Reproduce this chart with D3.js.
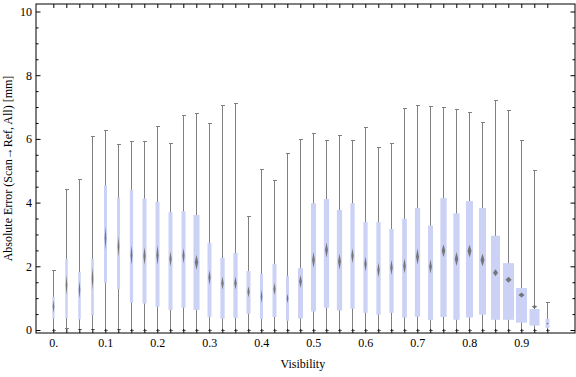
<!DOCTYPE html>
<html>
<head>
<meta charset="utf-8">
<script src="https://cdn.jsdelivr.net/npm/d3@7"></script>
<style>
  body { margin: 0; background: #fff; }
  text { font-family: "Liberation Serif", "Times New Roman", serif; }
</style>
</head>
<body>
<div id="chart"></div>
<script>
// Data (one entry per visibility bin)
const visibility = [0, 0.025, 0.05, 0.075, 0.1, 0.125, 0.15, 0.175, 0.2, 0.225,
    0.25, 0.275, 0.3, 0.325, 0.35, 0.375, 0.4, 0.425, 0.45, 0.475,
    0.5, 0.525, 0.55, 0.575, 0.6, 0.625, 0.65, 0.675, 0.7, 0.725,
    0.75, 0.775, 0.8, 0.825, 0.85, 0.875, 0.9, 0.925, 0.95];
const whiskerMax = [1.86, 4.4, 4.74, 6.07, 6.25, 5.83, 5.92, 5.92, 6.4, 5.87,
    6.72, 6.8, 6.49, 7.06, 7.1, 3.55, 5.04, 4.68, 5.53, 5.99,
    6.17, 5.96, 6.11, 5.96, 6.36, 5.74, 5.86, 6.96, 7.06, 7.03,
    6.99, 6.93, 6.83, 6.52, 7.21, 6.9, 5.96, 5.02, 0.87];
const q3 = [1.04, 2.23, 1.82, 2.23, 4.54, 4.15, 4.4, 4.13, 4.02, 3.7,
    3.73, 3.61, 2.73, 2.26, 2.42, 1.85, 1.76, 2.08, 1.69, 1.94,
    3.98, 4.11, 3.77, 3.98, 3.39, 3.39, 3.17, 3.49, 3.83, 3.28,
    4.14, 3.66, 4.05, 3.83, 2.96, 2.1, 1.32, 0.66, 0.35];
const q1 = [0.36, 0.37, 0.33, 0.46, 1.47, 1.28, 0.86, 0.83, 0.73, 0.63,
    0.7, 0.63, 0.41, 0.35, 0.38, 0.51, 0.35, 0.41, 0.29, 0.36,
    0.58, 0.7, 0.61, 0.67, 0.54, 0.48, 0.54, 0.39, 0.42, 0.32,
    0.41, 0.32, 0.39, 0.48, 0.32, 0.32, 0.23, 0.14, 0.07];
const whiskerMin = [0, 0.05, 0.02, 0.02, 0, 0.02, 0, 0, 0, 0,
    0, 0, 0, 0, 0, 0, 0, 0, 0, 0,
    0, 0, 0, 0, 0, 0, 0, 0, 0, 0,
    0, 0, 0, 0, 0, 0, 0, 0, 0];
const mean = [0.74, 1.41, 1.26, 1.62, 2.88, 2.62, 2.35, 2.32, 2.35, 2.23,
    2.33, 2.13, 1.65, 1.47, 1.47, 1.2, 1.05, 1.29, 0.99, 1.52,
    2.2, 2.51, 2.15, 2.33, 2.07, 1.88, 1.96, 2.01, 2.3, 1.99,
    2.49, 2.23, 2.48, 2.2, 1.8, 1.58, 1.1, 0.73, 0.2];
// full height of the mean confidence diamond
const meanCI = [0.41, 0.63, 0.57, 0.72, 0.72, 0.63, 0.63, 0.57, 0.63, 0.47,
    0.47, 0.47, 0.47, 0.41, 0.41, 0.35, 0.41, 0.38, 0.31, 0.41,
    0.5, 0.47, 0.5, 0.47, 0.47, 0.47, 0.47, 0.47, 0.5, 0.44,
    0.41, 0.44, 0.41, 0.41, 0.22, 0.19, 0.16, 0.11, 0.06];
// relative box width (sample weight)
const weight = [0.21, 0.23, 0.23, 0.25, 0.27, 0.27, 0.3, 0.36, 0.36, 0.36,
    0.36, 0.55, 0.36, 0.39, 0.39, 0.36, 0.27, 0.36, 0.27, 0.45,
    0.45, 0.48, 0.48, 0.39, 0.39, 0.39, 0.39, 0.43, 0.48, 0.45,
    0.57, 0.57, 0.64, 0.64, 0.82, 1, 1, 0.91, 0.36];
const xTickLabels = [0, 0.1, 0.2, 0.3, 0.4, 0.5, 0.6, 0.7, 0.8, 0.9];
const yTicks = [0, 2, 4, 6, 8, 10];

const data = visibility.map((v, i) => ({
    v: v, max: whiskerMax[i], q3: q3[i], q1: q1[i], min: whiskerMin[i],
    mean: mean[i], ci: meanCI[i], w: weight[i]
}));

const serif = '"Liberation Serif", "Times New Roman", serif';
const margin = { top: 4, right: 1, bottom: 44, left: 36 };
const width = 576 - margin.left - margin.right;
const height = 377 - margin.top - margin.bottom;

const svg = d3.select('#chart')
    .append('svg')
    .attr('width', 576)
    .attr('height', 377)
    .append('g')
    .attr('transform', `translate(${margin.left}, ${margin.top})`);

const xScale = d3.scaleLinear().domain([-0.0333, 1.0033]).range([0, width]);
const yScale = d3.scaleLinear().domain([-0.094, 10.235]).range([height, 0]);
const wScale = d3.scaleLinear().domain([0, 1]).range([0, 11]);

// blur for the diamonds
svg.append('defs').append('filter')
    .attr('id', 'soft')
    .attr('x', '-100%').attr('y', '-50%').attr('width', '300%').attr('height', '200%')
    .append('feGaussianBlur').attr('stdDeviation', 0.55);

const g = svg.selectAll('.bw').data(data).join('g').attr('class', 'bw')
    .attr('transform', d => `translate(${Math.round(xScale(d.v)) + 0.5},0)`);

// Whiskers
const whisk = g.append('g')
    .attr('stroke', '#808080').attr('stroke-width', 1)
    .attr('shape-rendering', 'crispEdges');
whisk.append('line')
    .attr('y1', d => yScale(d.max)).attr('y2', d => yScale(d.min));
whisk.append('line')
    .attr('x1', -2).attr('x2', 2)
    .attr('y1', d => yScale(d.max)).attr('y2', d => yScale(d.max));
whisk.append('line')
    .attr('x1', -2).attr('x2', 2)
    .attr('y1', d => yScale(d.min)).attr('y2', d => yScale(d.min));

// Boxes
g.append('rect')
    .attr('x', d => -wScale(d.w) / 2)
    .attr('width', d => wScale(d.w))
    .attr('y', d => yScale(d.q3))
    .attr('height', d => yScale(d.q1) - yScale(d.q3))
    .attr('fill', '#ccd2f5');

// Mean diamonds
g.append('path')
    .attr('d', d => {
        const hw = Math.max(0.8, wScale(d.w) * 0.28);
        const top = yScale(d.mean + d.ci / 2), bot = yScale(d.mean - d.ci / 2), mid = yScale(d.mean);
        return `M0,${top}L${hw},${mid}L0,${bot}L${-hw},${mid}Z`;
    })
    .attr('fill', '#666')
    .attr('fill-opacity', 0.85)
    .attr('filter', 'url(#soft)');

// Frame
svg.append('rect')
    .attr('width', width).attr('height', height)
    .attr('fill', 'none').attr('stroke', '#000').attr('stroke-width', 1);

// Axes
const fmtX = d => d === 0 ? '0.' : d3.format('.1f')(d);
svg.append('g')
    .attr('transform', `translate(0, ${height})`)
    .call(d3.axisBottom(xScale).tickValues(visibility).tickSizeInner(-4).tickSizeOuter(0).tickPadding(5)
        .tickFormat(d => xTickLabels.some(t => Math.abs(t - d) < 1e-9) ? fmtX(d) : ''));
svg.append('g')
    .call(d3.axisTop(xScale).tickValues(visibility).tickSizeInner(-4).tickSizeOuter(0).tickFormat(''));

const minorY = [1, 3, 5, 7, 9, 0.5, 1.5, 2.5, 3.5, 4.5, 5.5, 6.5, 7.5, 8.5, 9.5];
svg.append('g')
    .call(d3.axisLeft(yScale).tickValues(yTicks).tickSizeInner(-4.5).tickSizeOuter(0).tickPadding(4));
svg.append('g')
    .call(d3.axisLeft(yScale).tickValues(minorY).tickSizeInner(-2.5).tickSizeOuter(0).tickFormat(''));
svg.append('g').attr('transform', `translate(${width},0)`)
    .call(d3.axisRight(yScale).tickValues(yTicks).tickSizeInner(-4.5).tickSizeOuter(0).tickFormat(''));
svg.append('g').attr('transform', `translate(${width},0)`)
    .call(d3.axisRight(yScale).tickValues(minorY).tickSizeInner(-2.5).tickSizeOuter(0).tickFormat(''));

svg.selectAll('.domain').remove();
svg.selectAll('.tick line').attr('stroke', '#000');
svg.selectAll('.tick text')
    .attr('font-family', serif)
    .style('font-family', serif)
    .style('font-size', '12px')
    .attr('fill', '#000');

// Axis titles
svg.append('text')
    .attr('x', xScale(0.48)).attr('y', height + 35)
    .attr('text-anchor', 'middle')
    .attr('font-family', serif)
    .style('font-size', '12px')
    .text('Visibility');
svg.append('text')
    .attr('transform', `translate(${12 - margin.left}, ${height / 2}) rotate(-90)`)
    .attr('text-anchor', 'middle')
    .attr('font-family', serif)
    .style('font-size', '12px')
    .text('Absolute Error (Scan\u2192Ref, All) [mm]');
</script>
</body>
</html>
